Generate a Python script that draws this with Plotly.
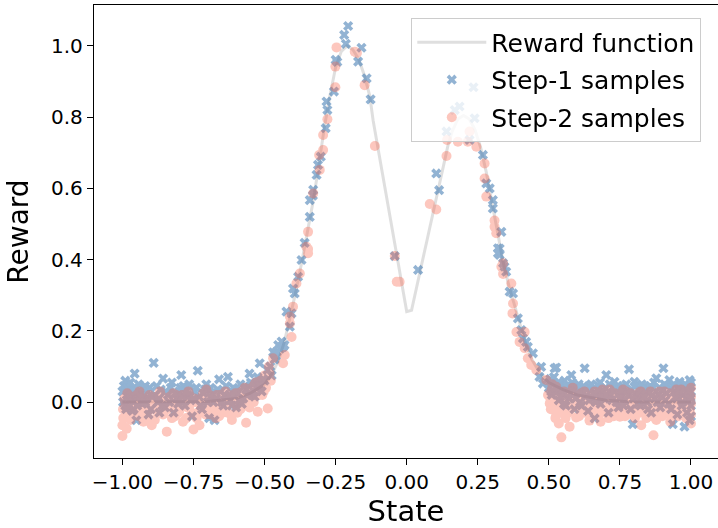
import plotly.graph_objects as go

# Reward function
reward_x = [-1.0, -0.9, -0.8, -0.7, -0.6, -0.55, -0.5, -0.47, -0.45, -0.43, -0.41, -0.39, -0.37, -0.35,
            -0.33, -0.31, -0.29, -0.27, -0.25, -0.23, -0.21, -0.19, -0.17, -0.15, -0.13, -0.118,
            0.0, 0.017, 0.145, 0.16, 0.18, 0.2, 0.22, 0.24, 0.26, 0.28, 0.30, 0.32, 0.34, 0.36, 0.38,
            0.40, 0.42, 0.44, 0.47, 0.5, 0.55, 0.6, 0.7, 0.8, 0.9, 1.0]
reward_y = [0.0, 0.0, 0.0, 0.002, 0.01, 0.025, 0.05, 0.085, 0.12, 0.17, 0.24, 0.31, 0.39, 0.47,
            0.56, 0.66, 0.77, 0.86, 0.94, 0.985, 1.0, 0.99, 0.965, 0.92, 0.86, 0.79,
            0.254, 0.258, 0.72, 0.76, 0.795, 0.805, 0.795, 0.765, 0.715, 0.645, 0.56, 0.47, 0.39, 0.325, 0.27,
            0.215, 0.16, 0.12, 0.08, 0.055, 0.035, 0.02, 0.005, 0.0, 0.0, 0.0]

# Step-1 samples
step1_x = [
    -1.0, -0.995, -0.99, -0.985, -0.98, -0.975, -0.97, -0.965, -0.96, -0.957, -0.951, -0.945, -0.94, -0.93,
    -0.925, -0.915, -0.905, -0.9, -0.89, -0.885, -0.875, -0.865, -0.857, -0.85, -0.84, -0.83, -0.82, -0.81,
    -0.8, -0.793, -0.785, -0.78, -0.77, -0.76, -0.755, -0.745, -0.735, -0.73, -0.72, -0.71, -0.7, -0.695,
    -0.685, -0.676, -0.67, -0.66, -0.655, -0.645, -0.64, -0.629, -0.62, -0.61, -0.6, -0.595, -0.585, -0.575,
    -0.565, -0.553, -0.545, -0.54, -0.53, -0.52, -0.51, -0.505, -0.97, -0.92, -0.87, -0.79, -0.69, -0.6,
    -0.58, -0.535, -0.96, -0.99,
    -0.5, -0.49, -0.48, -0.475, -0.47, -0.465, -0.46, -0.445, -0.44, -0.43, -0.517,
    -0.458, -0.452, -0.435, -0.411, -0.405, -0.423, -0.394, -0.4, -0.382, -0.37, -0.359, -0.341, -0.341,
    -0.33, -0.329, -0.317, -0.312, -0.302, -0.285, -0.279, -0.282, -0.256, -0.25, -0.244, -0.22, -0.214,
    -0.206, -0.171, -0.159, -0.141, -0.127, -0.042, 0.04,
    0.104, 0.114, 0.14, 0.169, 0.186, 0.235, 0.239, 0.221, 0.268, 0.28, 0.292, 0.303, 0.303, 0.333, 0.327,
    0.321, 0.344, 0.321, 0.327, 0.339, 0.35, 0.374, 0.362, 0.391, 0.403, 0.409, 0.42, 0.426, 0.444, 0.473,
    0.467, 0.52, 0.479, 0.538,
    0.5, 0.505, 0.51, 0.515, 0.526, 0.53, 0.535, 0.545, 0.55, 0.555, 0.56, 0.567, 0.572, 0.579, 0.585, 0.59,
    0.597, 0.605, 0.61, 0.618, 0.626, 0.63, 0.638, 0.645, 0.652, 0.661, 0.668, 0.675, 0.682, 0.69, 0.695,
    0.702, 0.71, 0.718, 0.725, 0.731, 0.738, 0.745, 0.752, 0.76, 0.767, 0.775, 0.782, 0.788, 0.795, 0.801,
    0.808, 0.815, 0.822, 0.83, 0.838, 0.845, 0.852, 0.86, 0.867, 0.872, 0.878, 0.885, 0.892, 0.9, 0.903,
    0.91, 0.917, 0.924, 0.93, 0.936, 0.942, 0.95, 0.955, 0.96, 0.967, 0.972, 0.977, 0.983, 0.988, 0.995,
    0.995, 1.0, 1.0, 0.998]
step1_y = [
    0.03, 0.045, -0.01, 0.02, 0.05, 0.005, 0.035, -0.025, 0.04, 0.08, -0.051, 0.015, 0.03, -0.005,
    0.025, 0.01, 0.04, -0.02, 0.11, 0.02, 0.0, 0.035, 0.066, -0.015, 0.02, 0.04, -0.03, 0.01,
    0.03, 0.076, 0.045, -0.01, 0.02, 0.005, -0.04, 0.03, 0.088, 0.015, -0.02, 0.035, 0.0, -0.045,
    0.025, -0.051, 0.01, 0.064, 0.03, -0.01, 0.02, 0.071, 0.005, 0.04, -0.015, 0.025, 0.05, 0.01,
    0.035, 0.08, 0.02, 0.05, 0.04, 0.06, 0.03, 0.065, 0.01, 0.045, -0.03, 0.0, 0.04, 0.035,
    -0.005, 0.015, -0.02, 0.06,
    0.06, 0.09, 0.10, 0.075, 0.14, 0.12, 0.13, 0.15, 0.17, 0.16, 0.109,
    0.141, 0.16, 0.155, 0.212, 0.249, 0.254, 0.305, 0.319, 0.352, 0.399, 0.447, 0.52, 0.567,
    0.58, 0.596, 0.638, 0.666, 0.689, 0.769, 0.82, 0.844, 0.872, 0.961, 0.955, 1.031, 1.006,
    1.056, 0.956, 0.995, 0.909, 0.85, 0.41, 0.371,
    0.642, 0.595, 0.76, 0.82, 0.83, 0.884, 0.797, 0.736, 0.694, 0.614, 0.6, 0.567, 0.544, 0.478, 0.431,
    0.418, 0.38, 0.432, 0.413, 0.39, 0.366, 0.305, 0.31, 0.235, 0.202, 0.179, 0.169, 0.155, 0.137, 0.099,
    0.071, 0.095, 0.052, 0.052,
    0.04, 0.065, 0.02, 0.05, 0.097, 0.03, 0.005, 0.045, 0.02, 0.06, -0.01, 0.035, 0.01, 0.076, 0.04, -0.02,
    0.025, 0.05, 0.0, 0.03, 0.095, 0.015, -0.025, 0.04, 0.01, -0.046, 0.02, 0.045, -0.005, 0.03, 0.01,
    0.076, -0.03, 0.02, 0.04, 0.057, 0.0, -0.015, 0.025, 0.045, 0.005, 0.03, 0.092, -0.02, -0.062, 0.057,
    0.015, 0.035, -0.01, 0.02, 0.045, 0.0, 0.025, -0.03, 0.04, 0.01, 0.067, 0.02, -0.015, 0.035, 0.095,
    0.005, 0.045, 0.062, -0.02, -0.062, 0.03, 0.01, 0.04, 0.057, -0.01, 0.02, -0.069, 0.045, 0.005, 0.062,
    -0.051, 0.03, -0.01, 0.015]

# more Step-1 samples in the flat (low reward) regions
step1_flat_x = [
    -0.998, -0.992, -0.987, -0.982, -0.972, -0.967, -0.962, -0.953, -0.948, -0.943, -0.935, -0.928, -0.92,
    -0.912, -0.908, -0.895, -0.88, -0.872, -0.86, -0.848, -0.835, -0.826, -0.815, -0.804, -0.796, -0.788,
    -0.775, -0.765, -0.75, -0.74, -0.725, -0.715, -0.705, -0.69, -0.68, -0.665, -0.65, -0.635, -0.625,
    -0.615, -0.605, -0.59, -0.57, -0.56, -0.548, -0.538, -0.525, -0.515,
    0.502, 0.508, 0.518, 0.523, 0.533, 0.54, 0.548, 0.553, 0.563, 0.575, 0.582, 0.594, 0.6, 0.608, 0.615,
    0.622, 0.634, 0.642, 0.649, 0.657, 0.665, 0.672, 0.68, 0.687, 0.699, 0.706, 0.714, 0.722, 0.729, 0.742,
    0.749, 0.757, 0.763, 0.772, 0.779, 0.79, 0.798, 0.805, 0.812, 0.82, 0.827, 0.835, 0.842, 0.849, 0.857,
    0.864, 0.87, 0.882, 0.889, 0.896, 0.907, 0.914, 0.921, 0.927, 0.939, 0.946, 0.952, 0.958, 0.964, 0.97,
    0.975, 0.98, 0.986, 0.992, 0.997, 1.0, 1.0, 0.999]
step1_flat_y = [
    0.0, 0.035, -0.02, 0.04, 0.055, 0.02, 0.0, 0.03, -0.01, 0.05, 0.015, 0.04, 0.0,
    0.03, -0.035, 0.015, 0.045, 0.01, -0.01, 0.03, 0.0, 0.055, 0.025, -0.005, 0.04, 0.015,
    0.03, 0.05, 0.01, 0.04, -0.01, 0.025, 0.05, 0.015, 0.0, 0.035, 0.0, 0.045, 0.02,
    -0.01, 0.03, 0.005, 0.045, 0.02, 0.055, 0.03, 0.07, 0.045,
    0.055, 0.03, 0.07, 0.04, 0.055, 0.015, 0.035, -0.005, 0.045, 0.025, 0.055, 0.01, 0.04, 0.025, -0.01,
    0.045, 0.035, 0.005, 0.05, 0.025, 0.0, 0.035, 0.055, 0.015, 0.04, 0.02, 0.05, 0.005, 0.03, 0.045,
    0.01, 0.035, -0.01, 0.05, 0.02, 0.035, 0.01, 0.045, -0.005, 0.03, 0.05, 0.015, 0.035, -0.02, 0.045,
    0.02, 0.055, 0.0, 0.04, 0.015, 0.05, 0.025, -0.005, 0.035, 0.05, 0.015, -0.035, 0.03, 0.045, 0.0,
    0.035, 0.05, -0.03, 0.03, 0.045, 0.055, -0.04, 0.01]

# Step-2 samples
step2_x = [
    -1.0, -1.0, -0.998, -0.993, -0.988, -0.983, -0.975, -0.968, -0.96, -0.955, -0.948, -0.94, -0.932, -0.926,
    -0.918, -0.91, -0.905, -0.897, -0.89, -0.882, -0.875, -0.868, -0.86, -0.853, -0.844, -0.838, -0.83, -0.822,
    -0.815, -0.807, -0.8, -0.79, -0.783, -0.775, -0.768, -0.76, -0.75, -0.742, -0.735, -0.729, -0.72, -0.712,
    -0.705, -0.698, -0.69, -0.682, -0.675, -0.668, -0.66, -0.652, -0.645, -0.638, -0.63, -0.622, -0.615, -0.607,
    -0.6, -0.592, -0.585, -0.577, -0.57, -0.565, -0.558, -0.55, -0.542, -0.535, -0.528, -0.524, -0.515, -0.508,
    -0.5, -0.495, -0.489, -0.485, -0.478,
    -0.47, -0.435, -0.429, -0.405, -0.411, -0.411, -0.4, -0.388, -0.376, -0.347, -0.347, -0.353, -0.347,
    -0.329, -0.306, -0.308, -0.294, -0.294, -0.279, -0.251, -0.251, -0.247, -0.183, -0.175, -0.148, -0.112,
    -0.042, -0.035, -0.025, 0.081, 0.104,
    0.14, 0.142, 0.18, 0.215, 0.221, 0.245, 0.274, 0.274, 0.28, 0.309, 0.309, 0.315, 0.339, 0.339, 0.333,
    0.368, 0.374, 0.372, 0.386, 0.415, 0.397, 0.415, 0.426, 0.438, 0.456, 0.491, 0.497, 0.52, 0.503, 0.526,
    0.505, 0.51, 0.515, 0.52, 0.526, 0.532, 0.538, 0.544, 0.55, 0.556, 0.562, 0.568, 0.573, 0.58, 0.588,
    0.596, 0.603, 0.61, 0.617, 0.625, 0.632, 0.643, 0.65, 0.657, 0.664, 0.671, 0.678, 0.685, 0.692, 0.7,
    0.707, 0.714, 0.721, 0.728, 0.735, 0.742, 0.75, 0.757, 0.764, 0.771, 0.778, 0.785, 0.792, 0.8, 0.807,
    0.814, 0.82, 0.825, 0.832, 0.84, 0.847, 0.854, 0.861, 0.868, 0.875, 0.882, 0.889, 0.896, 0.903, 0.91,
    0.917, 0.924, 0.931, 0.938, 0.945, 0.952, 0.959, 0.966, 0.973, 0.98, 0.987, 0.993, 1.0, 1.0, 1.0]
step2_y = [
    -0.095, -0.065, -0.02, 0.01, -0.04, 0.025, -0.01, 0.015, -0.035, 0.0, -0.02, 0.03, -0.005, -0.055,
    0.01, -0.025, 0.02, -0.065, -0.01, 0.015, -0.03, 0.03, 0.0, -0.02, -0.083, 0.01, -0.015, 0.025,
    -0.04, 0.005, -0.025, 0.02, -0.01, -0.045, 0.03, -0.005, -0.077, 0.0, -0.03, -0.065, 0.015, -0.02,
    0.035, -0.01, -0.035, 0.01, -0.02, 0.02, -0.04, 0.005, -0.015, 0.03, -0.03, 0.0, -0.05, 0.02,
    -0.01, 0.025, -0.02, 0.01, 0.04, -0.058, 0.005, 0.03, 0.015, 0.05, 0.035, -0.027, 0.06, 0.02,
    0.075, 0.04, -0.018, 0.1, 0.06,
    0.123, 0.109, 0.132, 0.183, 0.221, 0.24, 0.268, 0.333, 0.361, 0.418, 0.43, 0.436, 0.478,
    0.586, 0.652, 0.694, 0.708, 0.75, 0.794, 0.884, 0.942, 0.996, 0.984, 0.98, 0.89, 0.719,
    0.41, 0.338, 0.338, 0.556, 0.541,
    0.691, 0.736, 0.731, 0.731, 0.76, 0.717, 0.67, 0.628, 0.577, 0.51, 0.492, 0.474, 0.39, 0.36, 0.38,
    0.333, 0.277, 0.249, 0.197, 0.197, 0.169, 0.151, 0.123, 0.104, 0.09, 0.062, 0.02, -0.022, -0.004, 0.043,
    0.01, 0.035, -0.015, 0.02, -0.037, 0.005, -0.02, -0.099, 0.015, -0.01, 0.025, -0.03, -0.069, 0.0, 0.02,
    -0.043, -0.015, 0.01, -0.025, 0.03, -0.005, -0.052, 0.015, -0.02, 0.0, 0.025, -0.035, -0.01, 0.02, -0.025,
    0.005, 0.035, -0.015, -0.04, 0.01, -0.02, -0.041, 0.02, -0.005, 0.03, -0.025, 0.0, -0.035, 0.015, -0.015,
    0.025, -0.03, -0.065, 0.005, -0.02, 0.02, -0.01, -0.04, -0.093, 0.01, -0.025, 0.03, -0.005, -0.03, 0.015,
    -0.015, 0.025, -0.04, 0.0, -0.025, 0.02, -0.01, 0.035, -0.03, 0.005, -0.02, 0.025, 0.04, -0.005, -0.035]

# more Step-2 samples in the flat (low reward) regions
step2_flat_x = [
    -0.997, -0.99, -0.985, -0.979, -0.972, -0.964, -0.957, -0.95, -0.943, -0.936, -0.929, -0.921, -0.914,
    -0.907, -0.9, -0.893, -0.886, -0.879, -0.871, -0.864, -0.857, -0.849, -0.841, -0.834, -0.826, -0.819,
    -0.811, -0.803, -0.796, -0.787, -0.779, -0.771, -0.764, -0.756, -0.747, -0.739, -0.731, -0.724, -0.716,
    -0.708, -0.7, -0.693, -0.686, -0.678, -0.671, -0.664, -0.656, -0.648, -0.641, -0.634, -0.626, -0.618,
    -0.611, -0.603, -0.596, -0.588, -0.58, -0.572, -0.562, -0.553, -0.545, -0.538, -0.531, -0.52, -0.512,
    -0.503, -0.497, -0.482,
    0.507, 0.512, 0.517, 0.523, 0.529, 0.535, 0.541, 0.547, 0.553, 0.559, 0.565, 0.571, 0.577, 0.584, 0.591,
    0.599, 0.606, 0.613, 0.62, 0.628, 0.636, 0.64, 0.647, 0.654, 0.661, 0.668, 0.675, 0.682, 0.689, 0.696,
    0.703, 0.71, 0.718, 0.725, 0.732, 0.739, 0.746, 0.753, 0.761, 0.768, 0.774, 0.781, 0.788, 0.796, 0.803,
    0.81, 0.817, 0.823, 0.829, 0.836, 0.843, 0.85, 0.857, 0.864, 0.871, 0.878, 0.885, 0.892, 0.899, 0.906,
    0.913, 0.92, 0.927, 0.934, 0.941, 0.948, 0.955, 0.962, 0.969, 0.976, 0.983, 0.99, 0.996, 1.0, 1.0]
step2_flat_y = [
    -0.045, 0.0, -0.075, -0.015, -0.05, 0.005, -0.025, 0.02, -0.04, -0.015, 0.01, -0.03, 0.0,
    -0.045, 0.01, -0.02, -0.05, 0.0, -0.015, 0.02, -0.035, 0.005, -0.02, 0.015, -0.045, -0.005,
    0.02, -0.03, 0.0, -0.055, 0.01, -0.015, 0.02, -0.03, 0.01, -0.045, 0.005, -0.015, 0.025,
    -0.035, 0.0, 0.02, -0.02, 0.01, -0.045, 0.0, 0.02, -0.03, 0.01, -0.015, 0.02, -0.035,
    0.005, 0.025, -0.03, 0.0, 0.03, -0.01, 0.02, -0.015, 0.04, 0.0, 0.055, 0.02, 0.05,
    0.03, 0.065, 0.08,
    -0.02, 0.05, 0.005, -0.045, 0.025, -0.06, 0.01, -0.03, 0.03, -0.045, 0.005, 0.02, -0.02, 0.04, -0.01,
    0.015, -0.04, 0.025, -0.005, -0.03, 0.02, -0.015, 0.005, -0.04, 0.03, -0.01, 0.01, -0.055, 0.035, -0.01,
    0.015, -0.045, 0.02, -0.005, 0.025, -0.03, 0.0, -0.015, 0.035, -0.04, 0.01, -0.02, 0.025, -0.01, -0.045,
    0.01, -0.025, 0.03, -0.015, 0.015, -0.045, 0.0, 0.03, -0.02, 0.015, -0.05, 0.0, 0.02, -0.04, 0.03,
    -0.01, 0.0, -0.055, 0.02, -0.015, 0.035, -0.04, 0.005, -0.02, 0.03, -0.045, 0.015, -0.02, 0.015, -0.06]

x_tick_vals = [-1.0, -0.75, -0.5, -0.25, 0.0, 0.25, 0.5, 0.75, 1.0]
x_tick_text = ["\u22121.00", "\u22120.75", "\u22120.50", "\u22120.25", "0.00", "0.25", "0.50", "0.75", "1.00"]
y_tick_vals = [0.0, 0.2, 0.4, 0.6, 0.8, 1.0]
y_tick_text = ["0.0", "0.2", "0.4", "0.6", "0.8", "1.0"]

FONT = "DejaVu Sans"

fig = go.Figure()
fig.add_trace(go.Scatter(
    x=reward_x, y=reward_y, mode="lines", name="Reward function",
    line=dict(color="rgba(150,150,150,0.3)", width=3), legendgroup="a"))
fig.add_trace(go.Scatter(
    x=step1_x + step1_flat_x, y=step1_y + step1_flat_y, mode="markers", name="Step-1 samples",
    marker=dict(symbol="x", size=9, color="#3a76b0", line=dict(width=0)),
    opacity=0.55, legendgroup="b"))
fig.add_trace(go.Scatter(
    x=step2_x + step2_flat_x, y=step2_y + step2_flat_y, mode="markers", name="Step-2 samples",
    marker=dict(symbol="circle", size=10, color="#f8634a", line=dict(width=0)),
    opacity=0.36, legendgroup="c"))

axis_common = dict(showline=True, linecolor="black", linewidth=1.3, mirror=True,
                   ticks="outside", ticklen=6, tickwidth=1.3, tickcolor="black",
                   showgrid=False, zeroline=False, automargin=False,
                   tickfont=dict(family=FONT, size=20, color="black"))

fig.update_xaxes(range=[-1.1, 1.095], tickvals=x_tick_vals, ticktext=x_tick_text,
                 title=dict(text="State", font=dict(family=FONT, size=29, color="black"), standoff=12),
                 **axis_common)
fig.update_yaxes(range=[-0.157, 1.115], tickvals=y_tick_vals, ticktext=y_tick_text,
                 title=dict(text="Reward", font=dict(family=FONT, size=28, color="black"), standoff=14),
                 **axis_common)

fig.update_layout(
    template="none",
    width=718, height=528,
    margin=dict(l=93.5, r=0, t=5, b=70, pad=0),
    paper_bgcolor="white", plot_bgcolor="white",
    font=dict(family=FONT, color="black"),
    legend=dict(x=0.508, y=0.971, xanchor="left", yanchor="top",
                bgcolor="rgba(255,255,255,0.8)", bordercolor="#cccccc", borderwidth=1.3,
                font=dict(family=FONT, size=25, color="black"),
                tracegroupgap=2, itemwidth=69),
    showlegend=True,
)

fig.write_html("out.html", config={"displayModeBar": False},
               post_script="document.body.style.margin='0';document.body.style.padding='0';")
